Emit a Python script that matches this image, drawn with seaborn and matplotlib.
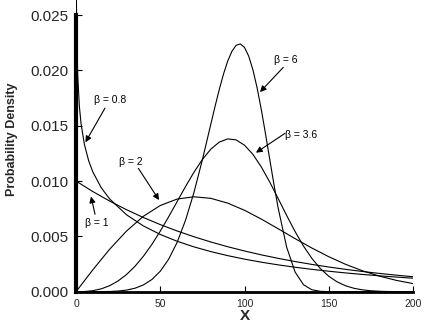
import matplotlib
matplotlib.use("Agg")
import matplotlib.pyplot as plt
from matplotlib.ticker import MultipleLocator
import pandas as pd
import seaborn as sns

# Weibull probability densities (scale 100) for five shape values
x_b08 = [0.1, 0.25, 0.5, 1, 2, 3, 5, 7.5, 10, 15, 20, 30, 40, 50, 60, 70, 80, 90, 100,
         110, 120, 130, 140, 150, 160, 170, 180, 190, 200]
y_b08 = [0.03172, 0.02630, 0.02275, 0.01960, 0.01675, 0.01518, 0.01330, 0.01184, 0.01082,
         0.00939, 0.008376, 0.006949, 0.005943, 0.005174, 0.004559, 0.004051, 0.003624,
         0.003259, 0.002943, 0.002667, 0.002425, 0.002211, 0.002020, 0.001850, 0.001697,
         0.001560, 0.001435, 0.001323, 0.001221]

x_b1 = [0, 10, 20, 30, 40, 50, 60, 70, 80, 90, 100, 110, 120, 130, 140, 150, 160, 170,
        180, 190, 200]
y_b1 = [0.01000, 0.009048, 0.008187, 0.007408, 0.006703, 0.006065, 0.005488, 0.004966,
        0.004493, 0.004066, 0.003679, 0.003329, 0.003012, 0.002725, 0.002466, 0.002231,
        0.002019, 0.001827, 0.001653, 0.001496, 0.001353]

x_b2 = [0, 10, 20, 30, 40, 50, 60, 70, 80, 90, 100, 110, 120, 130, 140, 150, 160, 170,
        180, 190, 200]
y_b2 = [0.0, 0.001980, 0.003843, 0.005484, 0.006817, 0.007788, 0.008372, 0.008577,
        0.008437, 0.008007, 0.007358, 0.006560, 0.005686, 0.004797, 0.003944, 0.003162,
        0.002474, 0.001890, 0.001410, 0.001028, 0.000733]

x_b36 = [0, 5, 10, 15, 20, 25, 30, 35, 40, 45, 50, 55, 60, 65, 70, 75, 80, 85, 90, 95,
         100, 105, 110, 115, 120, 125, 130, 135, 140, 145, 150, 155, 160, 165, 170, 175,
         180, 185, 190, 195, 200]
y_b36 = [0.0, 0.0000149, 0.0000904, 0.0002593, 0.0005465, 0.0009727, 0.0015527, 0.0022962,
         0.0032038, 0.0042673, 0.0054676, 0.0067725, 0.0081366, 0.0095012, 0.010797,
         0.011948, 0.012878, 0.013517, 0.013807, 0.013718, 0.013243, 0.012408, 0.011268,
         0.009903, 0.008413, 0.006895, 0.005441, 0.004128, 0.003005, 0.002095, 0.001396,
         0.000886, 0.000535, 0.000307, 0.0001666, 0.0000855, 0.0000413, 0.0000188,
         0.0000080, 0.0000032, 0.0000012]

x_b6 = [0, 10, 20, 25, 30, 35, 40, 45, 50, 55, 60, 65, 70, 75, 80, 82.5, 85, 87.5, 90,
        92.5, 95, 97.5, 100, 102.5, 105, 107.5, 110, 112.5, 115, 117.5, 120, 125, 130,
        135, 140, 145, 150, 160, 170, 180, 190, 200]
y_b6 = [0.0, 0.0000006, 0.0000192, 0.0000586, 0.0001457, 0.0003145, 0.0006119, 0.001098,
        0.001846, 0.002937, 0.004453, 0.006456, 0.008965, 0.011917, 0.015127, 0.016730,
        0.018258, 0.019647, 0.020824, 0.021719, 0.022260, 0.022392, 0.022073, 0.021287,
        0.020050, 0.018407, 0.016436, 0.014238, 0.011943, 0.009671, 0.007538, 0.004037,
        0.001785, 0.000632, 0.000173, 0.0000354, 0.0000052, 0.0, 0.0, 0.0, 0.0, 0.0]

series = [
    ("0.8", x_b08, y_b08),
    ("1", x_b1, y_b1),
    ("2", x_b2, y_b2),
    ("3.6", x_b36, y_b36),
    ("6", x_b6, y_b6),
]

# label text, label position, arrow start, arrow tip (data units)
labels = ["β = 0.8", "β = 1", "β = 2", "β = 3.6", "β = 6"]
label_xy = [(20.2, 0.01732), (12.5, 0.0062), (32.6, 0.01172), (133.5, 0.01415), (124.6, 0.02093)]
arrow_from = [(17.2, 0.01659), (11.3, 0.0070), (37.0, 0.01115), (124.0, 0.01431), (123.0, 0.02027)]
arrow_to = [(5.6, 0.0135), (8.9, 0.0086), (49.3, 0.00828), (106.8, 0.01256), (109.2, 0.01804)]

sns.set_theme(style="white")
plt.rcParams["font.family"] = ["Liberation Sans", "DejaVu Sans"]

fig = plt.figure(figsize=(4.4, 3.35), dpi=100)
ax = fig.add_axes([76 / 440, 1 - 291.7 / 335, 337 / 440, 291.7 / 335])

frames = []
for beta, xs, ys in series:
    frames.append(pd.DataFrame({"X": xs, "density": ys, "beta": beta}))
df = pd.concat(frames, ignore_index=True)

for beta, _, _ in series:
    sub = df[df["beta"] == beta]
    sns.lineplot(data=sub, x="X", y="density", ax=ax, color="black", lw=0.8,
                 estimator=None, sort=False)

for txt, pos, a0, a1 in zip(labels, label_xy, arrow_from, arrow_to):
    ax.text(pos[0], pos[1], txt, fontsize=7.5, ha="center", va="center", color="black")
    ax.annotate("", xy=a1, xytext=a0,
                arrowprops=dict(arrowstyle="-|>", color="black", lw=0.8,
                                mutation_scale=9, shrinkA=0, shrinkB=0))

ax.set_xlim(0, 200)
ax.set_ylim(0, 0.02636)
ax.spines["top"].set_visible(False)
ax.spines["right"].set_visible(False)
ax.spines["left"].set_linewidth(3.0)
ax.spines["bottom"].set_linewidth(2.0)
ax.spines["left"].set_color("black")
ax.spines["bottom"].set_color("black")
ax.spines["left"].set_bounds(0, 0.025)

ax.xaxis.set_major_locator(MultipleLocator(50))
ax.xaxis.set_minor_locator(MultipleLocator(25))
ax.yaxis.set_major_locator(MultipleLocator(0.005))
ax.yaxis.set_minor_locator(MultipleLocator(0.0025))
ax.yaxis.set_major_formatter(matplotlib.ticker.FormatStrFormatter("%.3f"))

ax.tick_params(axis="both", which="both", direction="in", color="black", width=0.8)
ax.tick_params(axis="x", which="major", length=4, labelsize=7.5, pad=5)
ax.tick_params(axis="x", which="minor", length=2)
ax.tick_params(axis="y", which="major", length=4, labelsize=11, pad=5.5)
ax.tick_params(axis="y", which="minor", length=2.5)
ax.tick_params(left=True, bottom=True)

ax.set_xlabel("X", fontsize=11, fontweight="bold")
ax.set_ylabel("Probability Density", fontsize=9, fontweight="bold")
ax.xaxis.set_label_coords(0.5, -0.059)
ax.yaxis.set_label_coords(-0.171, 0.5235)

fig.savefig("out.png", dpi=100)
